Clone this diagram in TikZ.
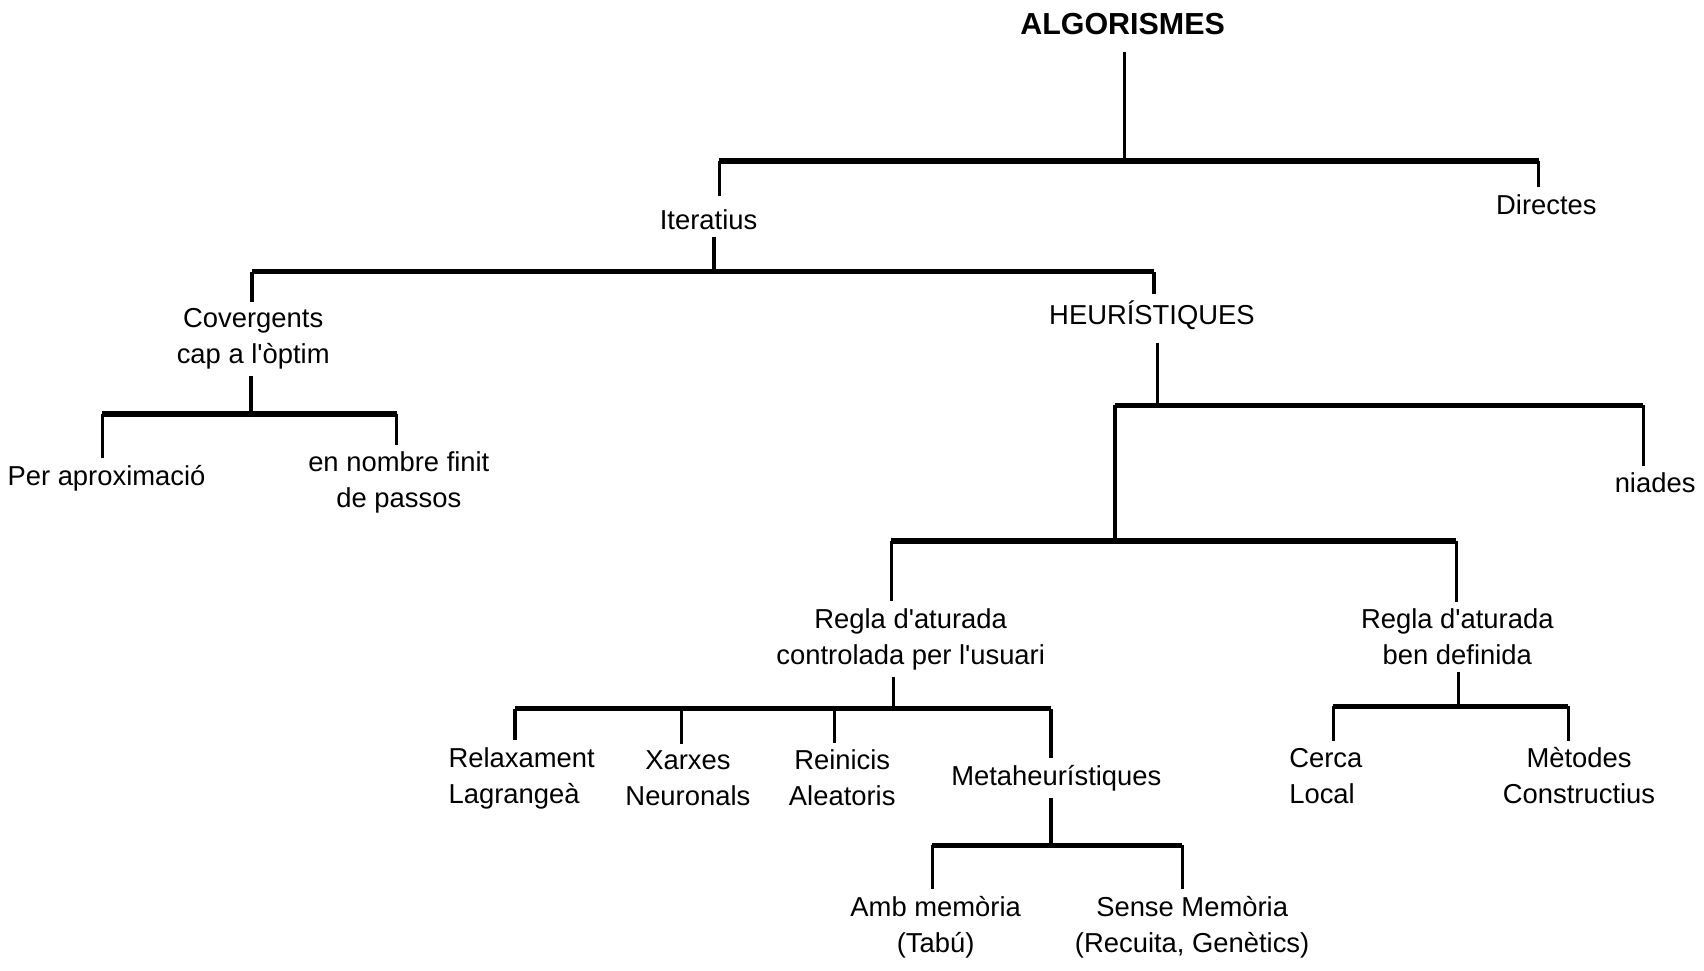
\documentclass[tikz,border=0pt]{standalone}
\usepackage{fontspec}
\newfontfamily\lbfont{Liberation Sans}
\begin{document}
\begin{tikzpicture}[x=0.5pt,y=-0.5pt,
  lbl/.style={font=\lbfont\fontsize{12.6pt}{16.5pt}\selectfont, align=center, inner sep=3pt},
  barline/.style={line width=2.5pt},
  stemline/.style={line width=1.5pt}]
\path[use as bounding box, fill=white] (0,0) rectangle (1568,893);
% nodes
\node[font=\lbfont\fontsize{14pt}{16pt}\selectfont\bfseries, inner sep=3pt, outer sep=5pt] (alg) at (1033,22) {ALGORISMES};
\node[lbl] (iter) at (652,202) {Iteratius};
\node[lbl] (dir) at (1423,188) {Directes};
\node[lbl] (cov) at (233,312) {Covergents\\cap a l'òptim};
\node[lbl] (heur) at (1060,290) {HEURÍSTIQUES};
\node[lbl] (aprox) at (98,440) {Per aproximació};
\node[lbl] (finit) at (367,444) {en nombre finit\\de passos};
\node[lbl] (niad) at (1523,444) {niades};
\node[lbl] (regc) at (838,588) {Regla d'aturada\\controlada per l'usuari};
\node[lbl] (regb) at (1341,586) {Regla d'aturada\\ben definida};
\node[lbl,align=left] (relax) at (480,716) {Relaxament\\Lagrangeà};
\node[lbl] (xarx) at (633,716) {Xarxes\\Neuronals};
\node[lbl] (rein) at (775,716) {Reinicis\\Aleatoris};
\node[lbl] (meta) at (972,716) {Metaheurístiques};
\node[lbl] (amb) at (861,853) {Amb memòria\\(Tabú)};
\node[lbl] (sense) at (1097,853) {Sense Memòria\\(Recuita, Genètics)};
\node[lbl,align=left] (cerca) at (1220,714) {Cerca\\Local};
\node[lbl] (metod) at (1453,714) {Mètodes\\Constructius};
% junction coordinates
\coordinate (b1l) at (662,148); \coordinate (b1r) at (1416,148); \coordinate (b1m) at (1035,148);
\coordinate (b2l) at (232,250); \coordinate (b2r) at (1062,250); \coordinate (b2m) at (657,250);
\coordinate (b3l) at (94,381); \coordinate (b3r) at (365,381); \coordinate (b3m) at (231,381);
\coordinate (b4l) at (1026,373); \coordinate (b4r) at (1512,373); \coordinate (b4m) at (1065,373);
\coordinate (b5l) at (820,498); \coordinate (b5r) at (1340,498); \coordinate (b5m) at (1026,498);
\coordinate (b6l) at (474,652); \coordinate (b6r) at (967,652); \coordinate (b6m) at (822,652);
\coordinate (b6a) at (627,652); \coordinate (b6b) at (768,652);
\coordinate (b7l) at (858,778); \coordinate (b7r) at (1088,778); \coordinate (b7m) at (967,778);
\coordinate (b8l) at (1227,650); \coordinate (b8r) at (1443,650); \coordinate (b8m) at (1342,650);
% bars
\foreach \b in {b1,b2,b3,b4,b5,b6,b7,b8} \draw[barline] (\b l) -- (\b r);
% stems from parents
\draw[stemline] (alg.south -| b1m) -- (b1m);
\draw[stemline] (iter.south -| b2m) -- (b2m);
\draw[stemline] (cov.south -| b3m) -- (b3m);
\draw[stemline] ([yshift=-3pt]heur.south -| b4m) -- (b4m);
\draw[stemline] (b4l) -- (b5m);
\draw[stemline] (regc.south -| b6m) -- (b6m);
\draw[stemline] (meta.south -| b7m) -- (b7m);
\draw[stemline] (regb.south -| b8m) -- (b8m);
% drops to children
\draw[stemline] (b1l) -- ([yshift=3pt]iter.north -| b1l);
\draw[stemline] (b1r) -- (dir.north -| b1r);
\draw[stemline] (b2l) -- (cov.north -| b2l);
\draw[stemline] (b2r) -- (heur.north -| b2r);
\draw[stemline] (b3l) -- (aprox.north -| b3l);
\draw[stemline] (b3r) -- (finit.north -| b3r);
\draw[stemline] (b4r) -- (niad.north -| b4r);
\draw[stemline] (b5l) -- (regc.north -| b5l);
\draw[stemline] (b5r) -- (regb.north -| b5r);
\draw[stemline] (b6l) -- (relax.north -| b6l);
\draw[stemline] (b6a) -- (xarx.north -| b6a);
\draw[stemline] (b6b) -- (rein.north -| b6b);
\draw[stemline] (b6r) -- (meta.north -| b6r);
\draw[stemline] (b7l) -- (amb.north -| b7l);
\draw[stemline] (b7r) -- (sense.north -| b7r);
\draw[stemline] (b8l) -- (cerca.north -| b8l);
\draw[stemline] (b8r) -- (metod.north -| b8r);
\end{tikzpicture}
\end{document}
